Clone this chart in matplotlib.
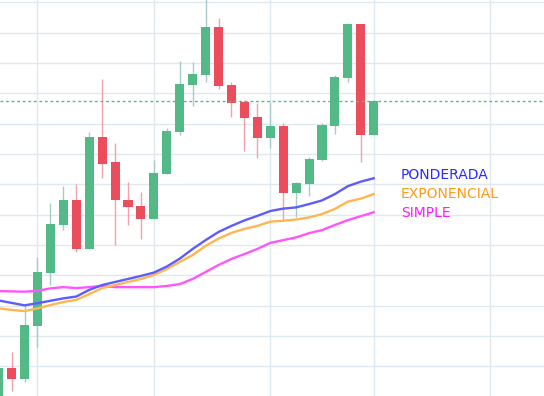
import matplotlib
matplotlib.use("Agg")
import matplotlib.pyplot as plt
import numpy as np

# OHLC (one candle per session)
opens  = [8.95, 9.93, 9.59, 11.33, 13.08, 14.67, 15.48, 13.87, 17.56, 16.74,
          15.48, 15.29, 14.86, 16.35, 17.73, 19.28, 19.61, 21.19, 19.27, 18.72,
          18.22, 17.53, 17.93, 15.72, 16.02, 16.80, 17.92, 19.51, 21.29, 17.63]
highs  = [10.00, 10.47, 12.02, 13.61, 15.38, 15.94, 16.01, 17.73, 19.47, 17.36,
          16.08, 15.75, 16.80, 17.86, 20.07, 20.03, 22.14, 21.49, 19.37, 18.78,
          18.68, 18.71, 18.03, 16.09, 16.90, 18.02, 19.60, 21.32, 21.29, 18.78]
lows   = [8.75, 9.20, 9.49, 10.62, 12.68, 14.49, 13.78, 13.87, 16.22, 13.99,
          14.66, 14.20, 14.86, 16.34, 17.64, 18.58, 19.37, 19.14, 18.22, 17.10,
          16.87, 17.20, 14.79, 14.93, 15.62, 16.77, 17.66, 19.37, 16.74, 17.63]
closes = [9.93, 9.59, 11.36, 13.11, 14.69, 15.48, 13.87, 17.56, 16.68, 15.48,
          15.25, 14.86, 16.37, 17.76, 19.31, 19.64, 21.19, 19.24, 18.68, 18.18,
          17.53, 17.93, 15.72, 16.05, 16.83, 17.96, 19.54, 21.29, 17.63, 18.75]

ponderada = [12.17, 12.09, 12.01, 12.08, 12.16, 12.24, 12.30, 12.52, 12.68, 12.78,
             12.88, 12.98, 13.09, 13.29, 13.55, 13.87, 14.16, 14.43, 14.63, 14.81,
             14.96, 15.12, 15.20, 15.24, 15.35, 15.47, 15.68, 15.94, 16.09, 16.20]
exponencial = [11.91, 11.86, 11.82, 11.91, 12.02, 12.12, 12.19, 12.38, 12.58, 12.68,
               12.78, 12.88, 13.01, 13.21, 13.44, 13.67, 13.97, 14.21, 14.40, 14.53,
               14.63, 14.77, 14.80, 14.84, 14.91, 15.02, 15.19, 15.43, 15.53, 15.68]
simple = [12.48, 12.47, 12.46, 12.49, 12.57, 12.61, 12.58, 12.61, 12.65, 12.61,
          12.61, 12.61, 12.61, 12.65, 12.71, 12.88, 13.11, 13.34, 13.54, 13.70,
          13.87, 14.07, 14.16, 14.25, 14.39, 14.49, 14.66, 14.82, 14.95, 15.08]

grid_x = [3, 12, 21, 29, 38]

GREEN = '#53b987'
RED = '#eb4d5c'

fig = plt.figure(figsize=(5.44, 3.96), dpi=100)
ax = fig.add_axes([0, 0, 1, 1])

x = np.arange(len(opens))
o = np.array(opens)
c = np.array(closes)
up = c >= o
body_col = np.where(up, GREEN, RED)
wick_col = np.where(up, '#a5cbcb', '#f4a2aa')

ax.vlines(x, lows, highs, colors=wick_col, linewidth=1.0, zorder=2)
ax.bar(x, np.abs(c - o), bottom=np.minimum(o, c), width=0.7,
       color=body_col, linewidth=0, zorder=3)

ax.plot(x, simple, color='#ff55ff', lw=1.7, zorder=4)
ax.plot(x, exponencial, color='#ffb551', lw=1.7, zorder=4)
ax.plot(x, ponderada, color='#5c5cff', lw=1.7, zorder=4)

ax.axhline(closes[-1], color=GREEN, lw=1.0, linestyle=(0, (2, 2)), zorder=5)

ax.text(31.1, 16.32, 'PONDERADA', color='#2a2aff', fontsize=10, va='center')
ax.text(31.1, 15.68, 'EXPONENCIAL', color='#ff9a16', fontsize=10, va='center')
ax.text(31.1, 15.05, 'SIMPLE', color='#ff1aff', fontsize=10, va='center')

ax.set_xlim(0.1, 42.17)
ax.set_ylim(9.02, 22.08)
ax.set_xticks(grid_x)
ax.set_yticks(np.arange(10, 23, 1))
ax.grid(True, color='#e0e8f0', lw=1.0, zorder=0)
ax.set_axisbelow(True)
ax.tick_params(left=False, bottom=False, labelleft=False, labelbottom=False)
for s in ax.spines.values():
    s.set_visible(False)

fig.savefig('out.png', dpi=100)
